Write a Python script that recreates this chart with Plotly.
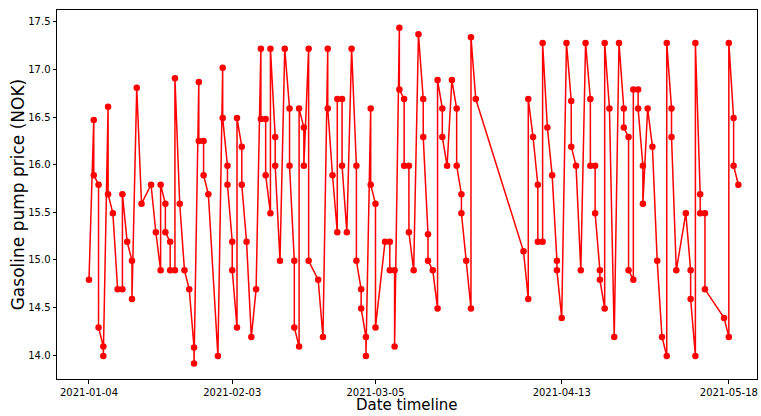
import datetime as dt
import plotly.graph_objects as go

# Observations: day offset from the first survey date, and pump price in NOK
start_date = "2021-01-04"
day_offsets = [
    0, 1, 1, 2, 2, 3, 3, 4, 4, 5, 6, 7, 7, 8, 9, 9, 10, 11, 13, 14,
    15, 15, 16, 16, 17, 17, 18, 18, 19, 20, 21, 22, 22, 23, 23, 24, 24, 25, 27, 28,
    28, 29, 29, 30, 30, 31, 31, 32, 32, 33, 34, 35, 36, 36, 37, 37, 38, 38, 39, 39,
    40, 41, 42, 42, 43, 43, 44, 44, 45, 45, 46, 46, 48, 49, 50, 50, 51, 52, 52, 53,
    53, 54, 55, 56, 56, 57, 57, 58, 58, 59, 59, 60, 60, 62, 63, 63, 64, 64, 65, 65,
    66, 66, 67, 67, 68, 69, 70, 70, 71, 71, 72, 73, 73, 74, 74, 75, 76, 77, 77, 78,
    78, 79, 80, 80, 81, 91, 92, 92, 93, 94, 94, 95, 95, 96, 97, 98, 98, 99, 100, 101,
    101, 102, 103, 104, 105, 105, 106, 106, 107, 107, 108, 108, 109, 110, 111, 112, 112, 113, 113, 114,
    114, 115, 115, 116, 116, 117, 118, 119, 120, 121, 121, 122, 122, 123, 125, 126, 126, 127, 127, 128,
    128, 129, 129, 133, 134, 134, 135, 135, 136,
]
prices = [
    14.79, 16.47, 15.89, 15.79, 14.29, 14.09, 13.99, 16.61, 15.69, 15.49, 14.69, 14.69, 15.69, 15.19, 14.99, 14.59, 16.81, 15.59, 15.79, 15.29,
    14.89, 15.79, 15.59, 15.29, 15.19, 14.89, 14.89, 16.91, 15.59, 14.89, 14.69, 14.08, 13.91, 16.87, 16.25, 16.25, 15.89, 15.69, 13.99, 17.02,
    16.49, 15.99, 15.79, 15.19, 14.89, 14.29, 16.49, 16.19, 15.79, 15.19, 14.19, 14.69, 17.22, 16.48, 16.48, 15.89, 15.49, 17.22, 16.29, 15.99,
    14.99, 17.22, 16.59, 15.99, 14.99, 14.29, 14.09, 16.59, 16.39, 15.99, 17.22, 14.99, 14.79, 14.19, 17.22, 16.59, 15.89, 15.29, 16.69, 16.69,
    15.99, 15.29, 17.22, 15.99, 14.99, 14.69, 14.49, 14.19, 13.99, 16.59, 15.79, 15.59, 14.29, 15.19, 15.19, 14.89, 14.89, 14.09, 17.44, 16.79,
    16.69, 15.99, 15.99, 15.29, 14.89, 17.37, 16.69, 16.29, 15.27, 14.99, 14.89, 14.49, 16.89, 16.59, 16.29, 15.99, 16.89, 16.59, 15.99, 15.69,
    15.49, 14.99, 14.49, 17.34, 16.69, 15.09, 14.59, 16.69, 16.29, 15.79, 15.19, 15.19, 17.28, 16.39, 15.89, 14.99, 14.89, 14.39, 17.28, 16.67,
    16.19, 15.99, 14.89, 17.28, 16.69, 15.99, 15.99, 15.49, 14.89, 14.79, 14.49, 17.28, 16.59, 14.19, 17.28, 16.59, 16.39, 16.29, 14.89, 14.79,
    16.79, 16.79, 16.59, 15.99, 15.59, 16.59, 16.19, 14.99, 14.19, 13.99, 17.28, 16.59, 16.29, 14.89, 15.49, 14.89, 14.59, 13.99, 17.28, 15.69,
    15.49, 15.49, 14.69, 14.39, 14.19, 17.28, 16.49, 15.99, 15.79,
]
tick_dates = ["2021-01-04", "2021-02-03", "2021-03-05", "2021-04-13", "2021-05-18"]
y_ticks = [14.0, 14.5, 15.0, 15.5, 16.0, 16.5, 17.0, 17.5]

base = dt.datetime.fromisoformat(start_date)
dates = [base + dt.timedelta(days=d) for d in day_offsets]

x_min = base + dt.timedelta(days=-6.7)
x_max = base + dt.timedelta(days=139.9)

fig = go.Figure(
    go.Scatter(
        x=dates,
        y=prices,
        mode="lines+markers",
        line=dict(color="#ff0000", width=1.5),
        marker=dict(color="#ff0000", size=6.5),
        showlegend=False,
    )
)

axis_common = dict(
    showgrid=False,
    zeroline=False,
    showline=True,
    linecolor="black",
    linewidth=1,
    mirror=True,
    ticks="outside",
    ticklen=3.5,
    tickwidth=0.8,
    tickcolor="black",
    tickfont=dict(family="DejaVu Sans", size=10, color="black"),
    automargin=False,
)

fig.update_xaxes(
    range=[x_min, x_max],
    tickmode="array",
    tickvals=tick_dates,
    ticktext=tick_dates,
    ticklabelstandoff=0,
    **axis_common,
)
fig.update_yaxes(
    range=[13.748, 17.626],
    tickmode="array",
    tickvals=y_ticks,
    ticktext=[f"{v:.1f}" for v in y_ticks],
    **axis_common,
)

fig.update_layout(
    width=761,
    height=416,
    margin=dict(l=57, r=4, t=10, b=37),
    paper_bgcolor="white",
    plot_bgcolor="white",
    font=dict(family="DejaVu Sans", color="black"),
    annotations=[
        dict(
            text="Date timeline",
            xref="paper", yref="paper",
            x=0.5, y=-0.1003,
            xanchor="center", yanchor="bottom",
            showarrow=False,
            font=dict(family="DejaVu Sans", size=15, color="black"),
        ),
        dict(
            text="Gasoline pump price (NOK)",
            xref="paper", yref="paper",
            x=-0.056, y=0.5,
            xanchor="center", yanchor="middle",
            textangle=-90,
            showarrow=False,
            font=dict(family="DejaVu Sans", size=17, color="black"),
        ),
    ],
)

fig.write_html("out.html")
